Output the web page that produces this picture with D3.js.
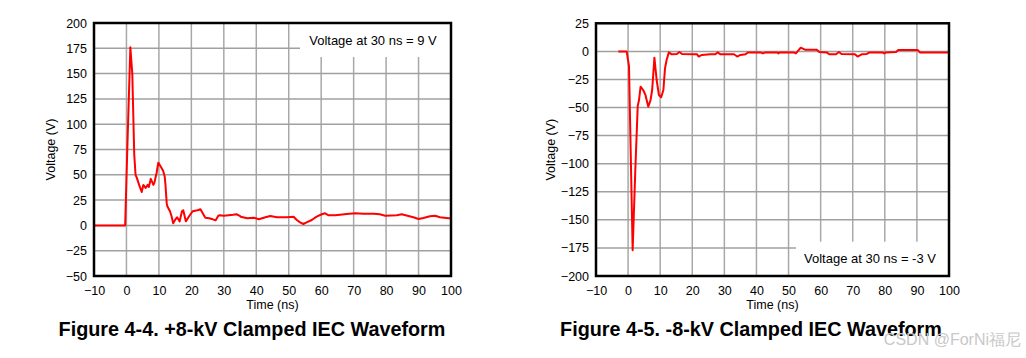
<!DOCTYPE html>
<html>
<head>
<meta charset="utf-8">
<script src="https://cdn.jsdelivr.net/npm/d3@7"></script>
<style>
  html, body { margin: 0; padding: 0; background: #fff; }
  svg { display: block; }
  text { font-family: "Liberation Sans", Arial, sans-serif; fill: #000; }
</style>
</head>
<body>
<svg id="chart" width="1026" height="358"></svg>
<script>
// ---------- Data ----------
const xTicks = [-10, 0, 10, 20, 30, 40, 50, 60, 70, 80, 90, 100];
const leftYTicks = [-50, -25, 0, 25, 50, 75, 100, 125, 150, 175, 200];
const rightYTicks = [-200, -175, -150, -125, -100, -75, -50, -25, 0, 25];

const leftTime = [-10, -0.4, 0.3, 1.2, 1.8, 2.4, 2.8, 3.2, 3.9, 4.7, 5.2, 5.9, 6.5, 6.9, 7.5, 8.3, 8.6, 9.3, 9.8, 10.6, 11.3, 11.8, 12.0, 12.4, 12.6, 13.4, 13.9, 14.4, 15.1, 15.6, 16.4, 17.1, 17.5, 18.3, 19.3, 20.4, 21.9, 22.8, 23.5, 24.3, 25.5, 26.6, 27.5, 28.3, 28.8, 30.0, 32.9, 33.9, 34.9, 35.2, 37.2, 39.2, 40.8, 42.8, 44.3, 46.4, 49.4, 51.5, 52.5, 53.5, 54.5, 55.5, 57.1, 58.6, 60.2, 61.2, 62.3, 64.3, 65.8, 67.9, 70.5, 73.0, 76.1, 78.1, 79.7, 83.3, 84.8, 86.9, 88.4, 90.0, 91.5, 93.5, 95.1, 96.6, 99.2, 100];
const leftVolt = [0, 0, 80, 176, 150, 70, 50, 47, 40, 33, 40, 37, 40, 38, 46, 40, 42, 52, 62, 58, 54, 48, 41, 22, 19, 14, 9, 2, 6, 8, 4, 14, 15, 4, 9, 14, 15, 16, 12, 7.5, 7, 6, 5, 9.5, 10, 9.5, 10.5, 11, 9.5, 8.6, 7, 7.6, 6, 8, 9.3, 8, 8, 8.6, 5.3, 3, 1.4, 3, 5.3, 8.6, 11, 12, 10, 10, 10.6, 11.3, 12, 11.6, 11.6, 11, 9.6, 10, 11, 9.3, 8, 6.3, 7.3, 9, 9.6, 8, 7, 7];

const rightTime = [-3.05, -0.45, 0.28, 1.42, 2.25, 3.0, 3.4, 3.9, 4.7, 5.4, 6.3, 7.0, 7.5, 8.2, 8.9, 9.6, 10.3, 11.0, 11.5, 12.0, 12.7, 13.6, 15.2, 16.0, 16.8, 20.4, 21.5, 22.0, 23.0, 25.6, 27.2, 27.9, 28.8, 33.0, 34.0, 35.0, 36.6, 37.3, 41.2, 42.0, 42.8, 46.5, 46.8, 47.2, 51.5, 52.3, 53.8, 55.1, 58.8, 59.6, 61.9, 62.7, 64.8, 65.7, 66.5, 70.7, 71.5, 72.8, 74.4, 75.2, 79.3, 79.8, 80.4, 83.5, 84.2, 90.2, 91.0, 100];
const rightVolt = [0, 0, -13, -177, -105.6, -48.6, -43.3, -31.4, -34.4, -38.8, -49.2, -43.3, -34.4, -5.6, -25.5, -38.8, -40.9, -34.4, -15.1, -7.7, -0.9, -2.6, -2.3, -0.6, -2.3, -2.6, -2.6, -4.6, -3.2, -2.6, -2.6, -0.9, -2.6, -2.6, -4.6, -3.2, -2.6, -0.9, -0.9, -1.8, -0.9, -0.9, -1.8, -0.9, -0.9, -1.8, 3.3, 1.5, 1.5, -0.6, -0.9, -2.6, -2.6, -0.6, -2.3, -2.6, -4.6, -2.6, -2.3, -0.9, -0.9, -1.8, -0.9, -0.6, 1.2, 1.2, -0.9, -0.9];

const leftNote = "Voltage at 30 ns = 9 V";
const rightNote = "Voltage at 30 ns = -3 V";
const leftTitle = "Figure 4-4. +8-kV Clamped IEC Waveform";
const rightTitle = "Figure 4-5. -8-kV Clamped IEC Waveform";
const xLabel = "Time (ns)";
const yLabel = "Voltage (V)";
const watermark = "CSDN @ForNi福尼";

// ---------- Drawing ----------
const svg = d3.select("#chart");
svg.append("rect").attr("width", 1026).attr("height", 358).attr("fill", "#fff");

function drawChart(cfg) {
  const {left, right, top, bottom, yDomain, yTicks, time, volt, note, noteBox, title, titleX, yLabelX} = cfg;
  const x = d3.scaleLinear().domain([-10, 100]).range([left, right]);
  const y = d3.scaleLinear().domain(yDomain).range([bottom, top]);
  const g = svg.append("g");

  // grid
  g.selectAll(".vg").data(xTicks).join("line")
    .attr("x1", d => x(d)).attr("x2", d => x(d))
    .attr("y1", top).attr("y2", bottom)
    .attr("stroke", "#a8a8a8").attr("stroke-width", 1.5);
  g.selectAll(".hg").data(yTicks).join("line")
    .attr("x1", left).attr("x2", right)
    .attr("y1", d => y(d)).attr("y2", d => y(d))
    .attr("stroke", "#a0a0a0").attr("stroke-width", 1.5);

  // note box (white, covers grid)
  g.append("rect")
    .attr("x", noteBox[0]).attr("y", noteBox[1])
    .attr("width", noteBox[2]).attr("height", noteBox[3])
    .attr("fill", "#fff");
  g.append("text")
    .attr("x", noteBox[0] + noteBox[2] / 2 - 2).attr("y", noteBox[1] + noteBox[3] / 2 + 4.5)
    .attr("text-anchor", "middle").attr("font-size", "13px").text(note);

  // line
  const line = d3.line().x((d, i) => x(time[i])).y(d => y(d));
  g.append("path").datum(volt)
    .attr("d", line)
    .attr("fill", "none").attr("stroke", "#ff0000")
    .attr("stroke-width", 2).attr("stroke-linejoin", "round");

  // frame
  g.append("rect")
    .attr("x", left).attr("y", top)
    .attr("width", right - left).attr("height", bottom - top)
    .attr("fill", "none").attr("stroke", "#000").attr("stroke-width", 2.5);

  // axes labels
  const yAxis = d3.axisLeft(y).tickValues(yTicks).tickSize(0).tickPadding(7).tickFormat(d3.format("d"));
  const ya = g.append("g").attr("transform", `translate(${left},0)`).call(yAxis);
  ya.select(".domain").remove();
  ya.selectAll("text").attr("font-size", "12.5px").attr("fill", "#000")
    .style("font-family", '"Liberation Sans", Arial, sans-serif');

  const xAxis = d3.axisBottom(x).tickValues(xTicks).tickSize(0).tickPadding(10).tickFormat(d3.format("d"));
  const xa = g.append("g").attr("transform", `translate(0,${bottom})`).call(xAxis);
  xa.select(".domain").remove();
  xa.selectAll("text").attr("font-size", "12.5px").attr("fill", "#000")
    .style("font-family", '"Liberation Sans", Arial, sans-serif');

  g.append("text")
    .attr("x", (left + right) / 2).attr("y", bottom + 33)
    .attr("text-anchor", "middle").attr("font-size", "12.5px").text(xLabel);
  g.append("text")
    .attr("transform", `translate(${yLabelX},${(top + bottom) / 2}) rotate(-90)`)
    .attr("text-anchor", "middle").attr("font-size", "12.5px").text(yLabel);

  svg.append("text")
    .attr("x", titleX).attr("y", 335.5)
    .attr("text-anchor", "middle").attr("font-size", "19.8px").attr("font-weight", "bold")
    .text(title);
}

drawChart({
  left: 94, right: 451, top: 23, bottom: 276,
  yDomain: [-50, 200], yTicks: leftYTicks,
  time: leftTime, volt: leftVolt,
  note: leftNote, noteBox: [300, 23, 150, 34],
  title: leftTitle, titleX: 252, yLabelX: 55
});
drawChart({
  left: 596, right: 949, top: 23.3, bottom: 276,
  yDomain: [-200, 25], yTicks: rightYTicks,
  time: rightTime, volt: rightVolt,
  note: rightNote, noteBox: [796, 241.7, 152, 34.3],
  title: rightTitle, titleX: 751, yLabelX: 555
});

svg.append("text")
  .attr("x", 1021).attr("y", 345)
  .attr("text-anchor", "end").attr("font-size", "16px")
  .attr("fill", "#c8c8c8").style("fill", "#c8c8c8")
  .attr("font-family", '"Noto Sans CJK SC", "Liberation Sans", sans-serif')
  .text(watermark);
</script>
</body>
</html>
